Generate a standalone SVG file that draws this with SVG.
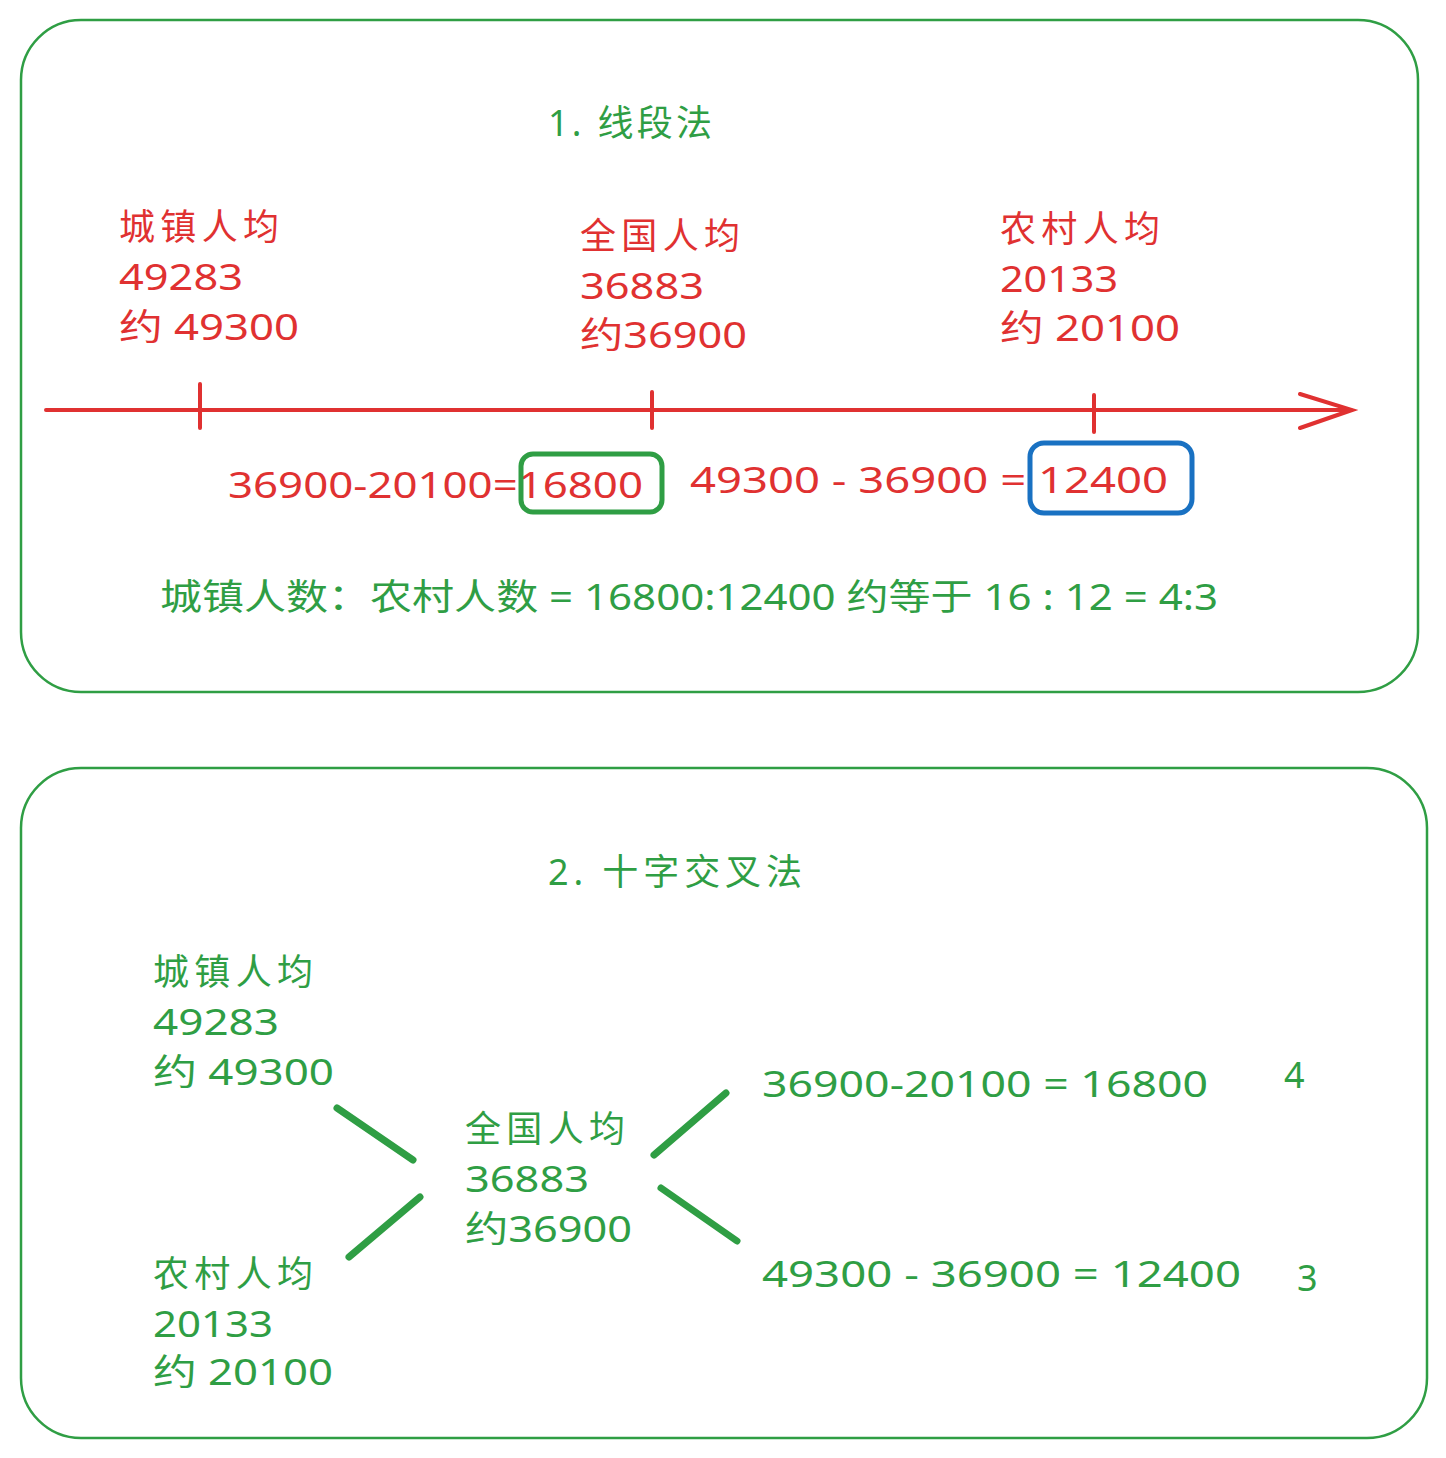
<svg xmlns="http://www.w3.org/2000/svg" width="1446" height="1458" viewBox="0 0 1446 1458">
<style>
.t{font-family:"Noto Sans","Noto Sans CJK SC",sans-serif;font-size:36px}
.r{fill:#e03131}
.g{fill:#2f9e44}
.frame{fill:none;stroke:#2f9e44;stroke-width:2.5}
.rl{stroke:#e03131;stroke-width:4;stroke-linecap:round;fill:none}
.gl{stroke:#2f9e44;stroke-width:7;stroke-linecap:round;fill:none}
</style>
<rect width="1446" height="1458" fill="#ffffff"/>
<g id="frame1"><rect class="frame" x="21" y="20" width="1397" height="672" rx="60"/></g>
<g id="frame2"><rect class="frame" x="21" y="768" width="1406" height="670" rx="60"/></g>

<g id="title1"><text class="t g" x="548" y="136" textLength="164">1. 线段法</text></g>
<g id="urban1"><text class="t r" x="119" y="240" textLength="160">城镇人均</text><text class="t r" x="119" y="290" textLength="124" lengthAdjust="spacingAndGlyphs">49283</text><text class="t r" x="119" y="340" textLength="180" lengthAdjust="spacingAndGlyphs">约 49300</text></g>
<g id="national1"><text class="t r" x="580" y="249" textLength="160">全国人均</text><text class="t r" x="580" y="299" textLength="124" lengthAdjust="spacingAndGlyphs">36883</text><text class="t r" x="580" y="348" textLength="167" lengthAdjust="spacingAndGlyphs">约36900</text></g>
<g id="rural1"><text class="t r" x="1000" y="242" textLength="160">农村人均</text><text class="t r" x="1000" y="292" textLength="118" lengthAdjust="spacingAndGlyphs">20133</text><text class="t r" x="1000" y="341" textLength="180" lengthAdjust="spacingAndGlyphs">约 20100</text></g>

<g id="connectors">
<path class="rl" d="M46 410 L1352 410 M1300 394 L1352 410 L1300 428"/>
<path class="rl" d="M200 384 L200 428 M652 392 L652 428 M1094 395 L1094 432"/>
<path class="gl" d="M337 1108 L413 1160 M420 1197 L349 1257 M654 1155 L726 1093 M661 1188 L737 1241"/>
</g>

<g id="diff1"><text class="t r" x="228" y="498" textLength="415" lengthAdjust="spacingAndGlyphs">36900-20100=16800</text>
<rect x="521" y="454" width="141" height="58" rx="12" fill="none" stroke="#2f9e44" stroke-width="5"/></g>
<g id="diff2"><text class="t r" x="690" y="493" textLength="478" lengthAdjust="spacingAndGlyphs">49300 - 36900 = 12400</text>
<rect x="1030" y="443" width="162" height="70" rx="14" fill="none" stroke="#1971c2" stroke-width="5"/></g>
<g id="ratio1"><text class="t g" x="160" y="610" textLength="1058" lengthAdjust="spacingAndGlyphs">城镇人数：农村人数 = 16800:12400 约等于 16 : 12 = 4:3</text></g>

<g id="title2"><text class="t g" x="548" y="885" textLength="254">2. 十字交叉法</text></g>
<g id="urban2"><text class="t g" x="153" y="985" textLength="160">城镇人均</text><text class="t g" x="153" y="1035" textLength="126" lengthAdjust="spacingAndGlyphs">49283</text><text class="t g" x="153" y="1085" textLength="181" lengthAdjust="spacingAndGlyphs">约 49300</text></g>
<g id="national2"><text class="t g" x="465" y="1142" textLength="160">全国人均</text><text class="t g" x="465" y="1192" textLength="124" lengthAdjust="spacingAndGlyphs">36883</text><text class="t g" x="465" y="1242" textLength="167" lengthAdjust="spacingAndGlyphs">约36900</text></g>
<g id="rural2"><text class="t g" x="153" y="1287" textLength="160">农村人均</text><text class="t g" x="153" y="1337" textLength="120" lengthAdjust="spacingAndGlyphs">20133</text><text class="t g" x="153" y="1385" textLength="180" lengthAdjust="spacingAndGlyphs">约 20100</text></g>
<g id="res1"><text class="t g" x="762" y="1097" textLength="446" lengthAdjust="spacingAndGlyphs">36900-20100 = 16800</text><text class="t g" x="1284" y="1088">4</text></g>
<g id="res2"><text class="t g" x="762" y="1287" textLength="479" lengthAdjust="spacingAndGlyphs">49300 - 36900 = 12400</text><text class="t g" x="1297" y="1291">3</text></g>
</svg>
